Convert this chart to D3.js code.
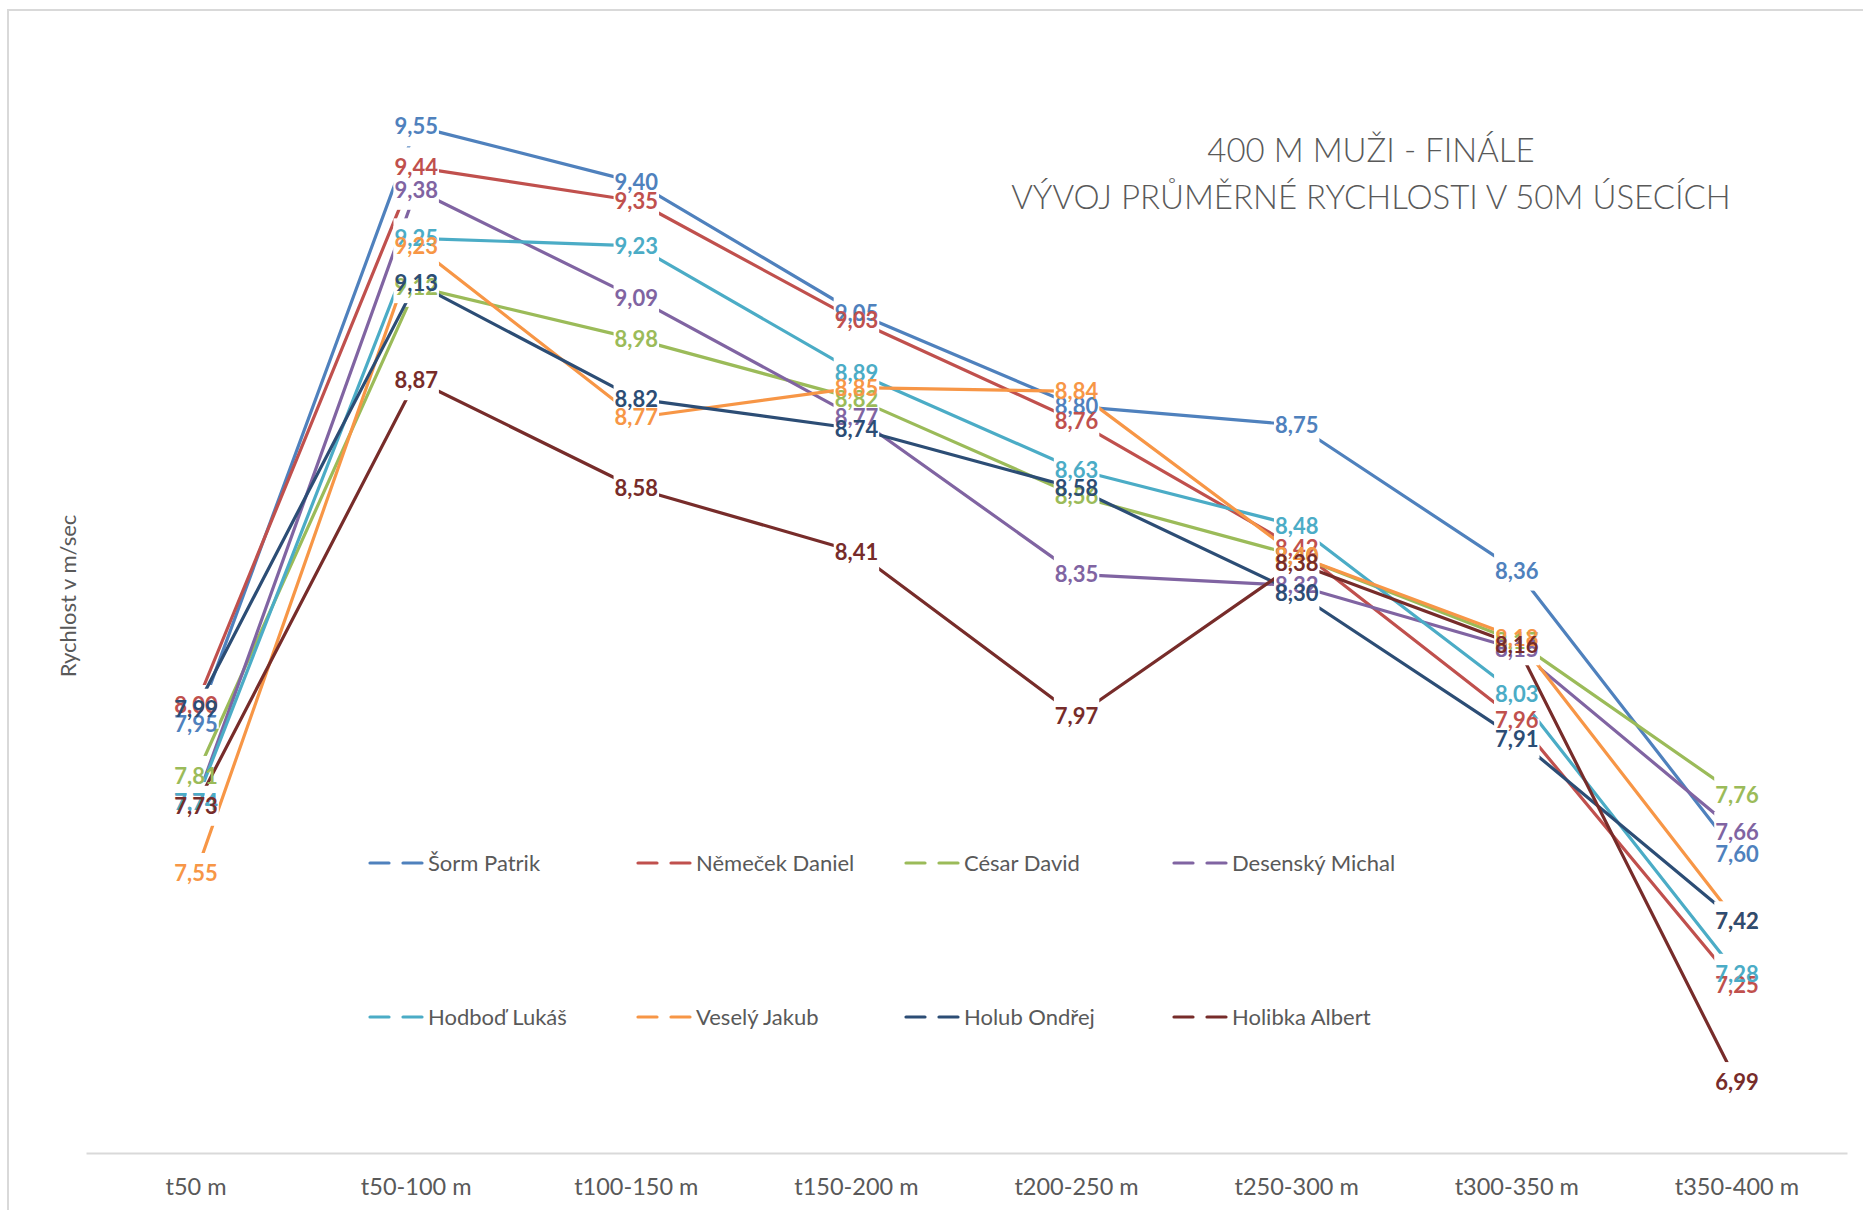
<!DOCTYPE html>
<html><head><meta charset="utf-8">
<script src="https://cdn.jsdelivr.net/npm/d3@7"></script>
<style>
html,body{margin:0;padding:0;background:#fff;}
svg{display:block;font-family:Lato,"Open Sans",sans-serif;}
</style></head>
<body>
<svg id="chart" width="1863" height="1210"></svg>
<script>
// ---- data ----
const categories = ["t50 m","t50-100 m","t100-150 m","t150-200 m","t200-250 m","t250-300 m","t300-350 m","t350-400 m"];
const seriesNames = ["Šorm Patrik","Němeček Daniel","César David","Desenský Michal","Hodboď Lukáš","Veselý Jakub","Holub Ondřej","Holibka Albert"];
const sormPatrik     = [7.95, 9.55, 9.40, 9.05, 8.80, 8.75, 8.36, 7.60];
const nemecekDaniel  = [8.00, 9.44, 9.35, 9.03, 8.76, 8.42, 7.96, 7.25];
const cesarDavid     = [7.81, 9.12, 8.98, 8.82, 8.56, 8.40, 8.17, 7.76];
const desenskyMichal = [7.74, 9.38, 9.09, 8.77, 8.35, 8.32, 8.15, 7.66];
const hodbodLukas    = [7.74, 9.25, 9.23, 8.89, 8.63, 8.48, 8.03, 7.28];
const veselyJakub    = [7.55, 9.23, 8.77, 8.85, 8.84, 8.40, 8.18, 7.42];
const holubOndrej    = [7.99, 9.13, 8.82, 8.74, 8.58, 8.30, 7.91, 7.42];
const holibkaAlbert  = [7.73, 8.87, 8.58, 8.41, 7.97, 8.38, 8.16, 6.99];
const seriesValues = [sormPatrik, nemecekDaniel, cesarDavid, desenskyMichal, hodbodLukas, veselyJakub, holubOndrej, holibkaAlbert];
const colors = ["#4F81BD","#C0504D","#9BBB59","#8064A2","#4BACC6","#F79646","#2C4D75","#772C2A"];
const titleLines = ["400 M MUŽI - FINÁLE","VÝVOJ PRŮMĚRNÉ RYCHLOSTI V 50M ÚSECÍCH"];
const yTitle = "Rychlost v m/sec";
const yDomain = [6.8, 9.8];

// ---- layout ----
const svg = d3.select("#chart");
const W = 1863, H = 1210;
const plot = {left: 86, right: 1847, top: 33, bottom: 1153};
const grey = "#595959";

svg.append("rect").attr("x", 8).attr("y", 10).attr("width", W + 40).attr("height", H + 40)
  .attr("fill", "#fff").attr("stroke", "#D9D9D9").attr("stroke-width", 2);

const x = d3.scaleBand().domain(categories).range([plot.left, plot.right]).paddingInner(0).paddingOuter(0);
const y = d3.scaleLinear().domain(yDomain).range([plot.bottom, plot.top]);
const cx = c => x(c) + x.bandwidth() / 2;

const fmtLocale = d3.formatLocale({decimal: ",", thousands: " ", grouping: [3], currency: ["", ""]});
const fmt = fmtLocale.format(".2f");

// axis
const axis = svg.append("g").attr("transform", `translate(0,${plot.bottom})`)
  .call(d3.axisBottom(x).tickSize(0).tickPadding(25));
axis.select(".domain").attr("stroke", "#D9D9D9").attr("stroke-width", 2);
axis.selectAll("text").attr("fill", grey).attr("font-size", 23.5).attr("font-family", "Lato");

// title
const title = svg.append("text").attr("text-anchor", "middle").attr("fill", grey)
  .attr("font-size", 33).attr("font-weight", 300).attr("font-family", "Lato");
title.selectAll("tspan").data(titleLines).join("tspan")
  .attr("x", 1371).attr("y", (d, i) => 162 + i * 47).text(d => d);

// y title
svg.append("text").attr("transform", "translate(76,596) rotate(-90)")
  .attr("text-anchor", "middle").attr("fill", grey).attr("font-size", 22)
  .text(yTitle);

// series layers
const line = d3.line().x((d, i) => cx(categories[i])).y(d => y(d));
const seriesLayer = svg.append("g");
const textLayer = svg.append("g");

seriesValues.forEach((vals, si) => {
  const g = seriesLayer.append("g");
  g.append("path").datum(vals).attr("d", line).attr("fill", "none")
    .attr("stroke", colors[si]).attr("stroke-width", 3.2).attr("stroke-linejoin", "round");
  const boxes = g.append("g");
  vals.forEach((v, i) => {
    const t = textLayer.append("text")
      .attr("x", cx(categories[i])).attr("y", y(v)).attr("dy", "0.36em")
      .attr("text-anchor", "middle").attr("font-weight", "bold").attr("font-size", 22)
      .attr("fill", colors[si]).text(fmt(v));
    const w = t.node().getComputedTextLength();
    boxes.append("rect").attr("x", cx(categories[i]) - w / 2 - 1).attr("y", y(v) - 20)
      .attr("width", w + 2).attr("height", 40).attr("fill", "#fff");
  });
});

// legend
const legendCols = [369, 637, 905, 1173];
const legendRows = [863, 1017];
const legend = svg.append("g");
seriesNames.forEach((name, i) => {
  const lx = legendCols[i % 4], ly = legendRows[Math.floor(i / 4)];
  legend.append("line").attr("x1", lx + 1).attr("x2", lx + 53).attr("y1", ly).attr("y2", ly)
    .attr("stroke", colors[i]).attr("stroke-width", 3.2).attr("stroke-linecap", "round")
    .attr("stroke-dasharray", "19,14,19");
  legend.append("text").attr("x", lx + 59).attr("y", ly).attr("dy", "0.35em")
    .attr("fill", grey).attr("font-size", 22).text(name);
});
</script>
</body></html>
